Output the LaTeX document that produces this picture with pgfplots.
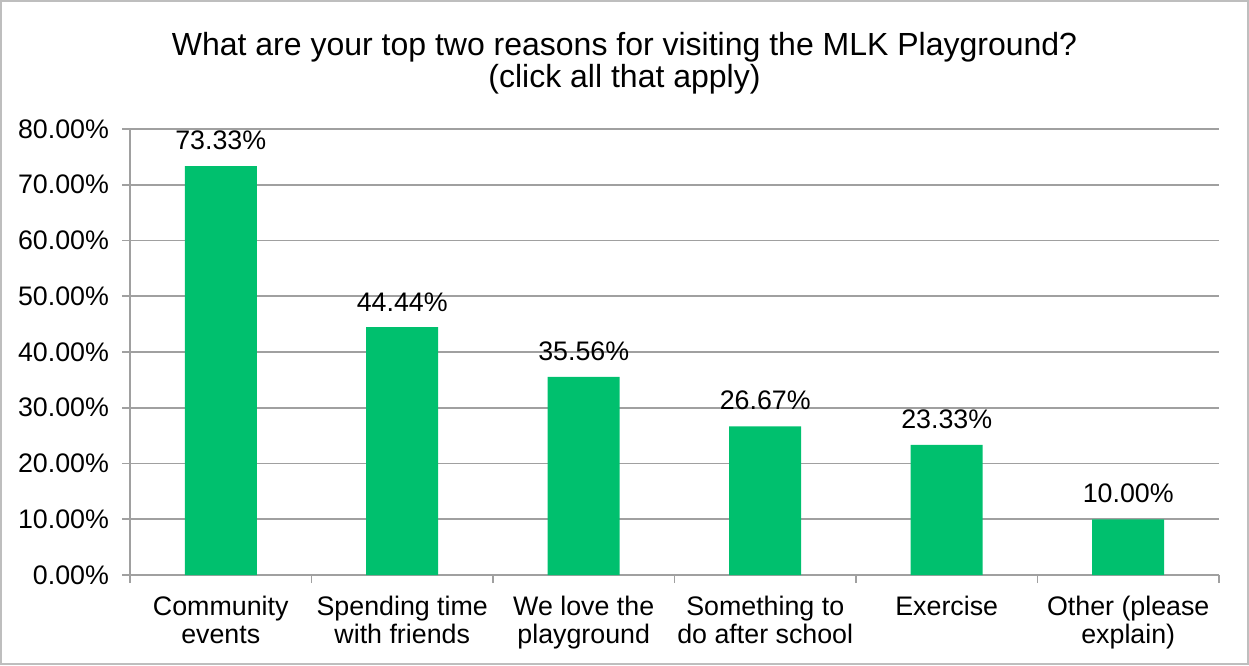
\documentclass[border=0pt]{standalone}
\usepackage{fontspec}
\setmainfont{Liberation Sans}
\usepackage{pgfplots}
\pgfplotsset{compat=1.18}
\definecolor{barg}{RGB}{0,192,110}
\definecolor{gridg}{RGB}{160,160,160}
\definecolor{frameg}{RGB}{190,190,190}
\begin{document}
\begin{tikzpicture}[x=1pt,y=1pt]
\draw[frameg, line width=1.2pt] (0.6,0.6) rectangle (623.9,331.9);
\node[align=center, font=\fontsize{16}{16.2}\selectfont] at (312.25,300.8) {What are your top two reasons for visiting the MLK Playground?\\(click all that apply)};
\begin{axis}[at={(65pt,45pt)}, anchor=south west, scale only axis,
  width=544.5pt, height=223pt,
  xmin=-0.5, xmax=5.5, ymin=0, ymax=80,
  axis x line*=bottom, axis y line*=left,
  axis line style={gridg, line width=0.8pt, -},
  ytick={0,10,...,80}, ymajorgrids,
  grid style={gridg, line width=0.8pt},
  /pgf/number format/assume math mode=true,
  yticklabel={\pgfmathprintnumber[fixed,fixed zerofill,precision=2]{\tick}\%},
  yticklabel style={xshift=-3pt},
  xtick={0,...,5},
  minor xtick={-0.5,0.5,...,5.5},
  xticklabels={Community\\events, Spending time\\with friends, We love the\\playground, Something to\\do after school, Exercise, Other (please\\explain)},
  xticklabel style={align=center, font=\fontsize{13.4}{14}\selectfont, yshift=-3pt},
  ticklabel style={font=\fontsize{13.4}{14}\selectfont},
  major tick length=4pt, minor tick length=4pt, tick align=outside,
  tick style={gridg, line width=0.8pt},
  every major x tick/.append style={draw=none},
  ybar, bar width=36pt,
  nodes near coords={\pgfmathprintnumber[fixed,fixed zerofill,precision=2]{\pgfplotspointmeta}\%},
  nodes near coords style={font=\fontsize{13.4}{14}\selectfont, yshift=4.5pt, /pgf/number format/assume math mode=true},
  clip=false,
]
\addplot[fill=barg, draw=none] coordinates {(0,73.33) (1,44.44) (2,35.56) (3,26.67) (4,23.33) (5,10.00)};
\end{axis}
\end{tikzpicture}
\end{document}
